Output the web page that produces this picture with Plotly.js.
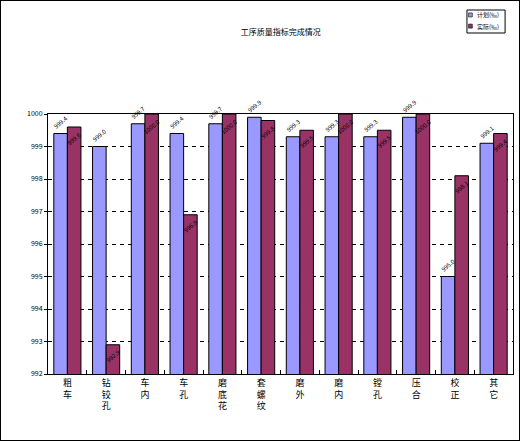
<!DOCTYPE html>
<html>
<head>
<meta charset="utf-8">
<script src="https://cdn.plot.ly/plotly-3.0.1.min.js"></script>
<style>
html,body{margin:0;padding:0;background:#fff;}
#chart{width:520px;height:441px;box-sizing:border-box;border:1px solid #000;}
</style>
</head>
<body>
<div id="chart"></div>
<script>
const categories = ["粗车","钻铰孔","车内","车孔","磨底花","套螺纹","磨外","磨内","镗孔","压合","校正","其它"];
const planValues = [999.4, 999.0, 999.7, 999.4, 999.7, 999.9, 999.3, 999.3, 999.3, 999.9, 995.0, 999.1];
const actualValues = [999.6, 992.9, 1000.0, 996.9, 1000.0, 999.8, 999.5, 1000.0, 999.5, 1000.0, 998.1, 999.4];
const seriesNames = ["计划(‰)", "实际(‰)"];
const seriesColors = ["#9999FF", "#993366"];
const yTicks = [992, 993, 994, 995, 996, 997, 998, 999, 1000];

const tickText = categories.map(c => c.split("").join("<br>"));
const font = "Noto Sans CJK SC, SimSun, sans-serif";

const common = {
  type: "bar",
  x: categories,
  texttemplate: "%{y:.1f}",
  textangle: -40,
  textfont: {size: 6, color: "#000", family: font},
  constraintext: "none",
  cliponaxis: false
};

const traces = [
  Object.assign({}, common, {
    name: seriesNames[0], y: planValues,
    marker: {color: seriesColors[0], line: {color: "#000", width: 1}},
    textposition: "outside"
  }),
  Object.assign({}, common, {
    name: seriesNames[1], y: actualValues,
    marker: {color: seriesColors[1], line: {color: "#000", width: 1}},
    textposition: "inside", insidetextanchor: "end"
  })
];

// compact legend box (drawn by hand to match the small Excel-style legend)
const legendRows = [1.381, 1.338];
const shapes = [{
  type: "rect", xref: "paper", yref: "paper",
  x0: 0.901, x1: 0.983, y0: 1.3115, y1: 1.4,
  line: {color: "#000", width: 1}, fillcolor: "#fff"
}];
const annotations = [];
seriesNames.forEach((n, i) => {
  shapes.push({
    type: "rect", xref: "paper", yref: "paper",
    x0: 0.9045, x1: 0.9125, y0: legendRows[i] - 0.0077, y1: legendRows[i] + 0.0077,
    line: {color: "#000", width: 0.6}, fillcolor: seriesColors[i]
  });
  annotations.push({
    xref: "paper", yref: "paper", x: 0.918, y: legendRows[i],
    xanchor: "left", yanchor: "middle", showarrow: false,
    text: n, font: {size: 6, family: font, color: "#000"}
  });
});

const layout = {
  width: 518, height: 439,
  margin: {l: 47, r: 6, t: 113, b: 66, pad: 0},
  paper_bgcolor: "#fff", plot_bgcolor: "#fff",
  font: {family: font, color: "#000", size: 7},
  title: {text: "工序质量指标完成情况", font: {size: 8, family: font, color: "#000"}, x: 0.54, xanchor: "center", y: 0.93, yanchor: "middle"},
  barmode: "group",
  bargap: 0.3,
  bargroupgap: 0,
  showlegend: false,
  shapes: shapes,
  annotations: annotations,
  xaxis: {
    tickmode: "array", tickvals: categories, ticktext: tickText,
    tickson: "boundaries", ticks: "inside", ticklen: 4, tickcolor: "#000",
    showline: true, linecolor: "#000", linewidth: 1, mirror: true,
    tickfont: {size: 9, family: font}, tickangle: 0, showgrid: false, automargin: false
  },
  yaxis: {
    range: [992, 1000], tickmode: "array", tickvals: yTicks,
    ticktext: yTicks.map(String),
    showline: true, linecolor: "#000", linewidth: 1, mirror: true,
    ticks: "outside", ticklen: 3, tickcolor: "#000",
    showgrid: true, gridcolor: "#000", griddash: "4px,4px", gridwidth: 1,
    zeroline: false, tickfont: {size: 7, family: font}, automargin: false
  }
};

Plotly.newPlot("chart", traces, layout, {displayModeBar: false, staticPlot: true});
</script>
</body>
</html>
